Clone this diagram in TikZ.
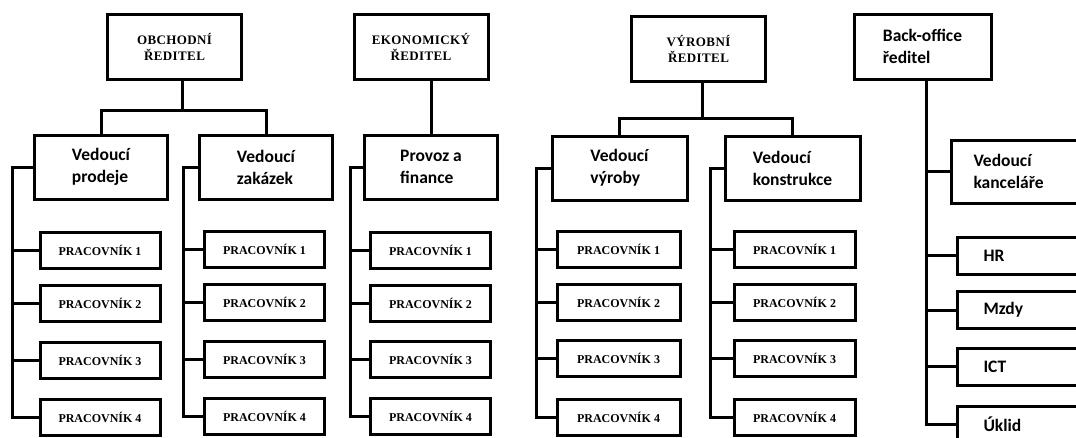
\documentclass[tikz,border=0pt]{standalone}
\usepackage{fontspec}
\usepackage{tikz}
\newfontfamily\calfont{Carlito}
\newfontfamily\serfont{Liberation Serif}
\newfontfamily\serwide[LetterSpace=3]{Liberation Serif}

\begin{document}
\begin{tikzpicture}[x = 1pt, y = -1pt, line width = 3pt,
    reditel/.style = {draw, minimum width = 134pt, minimum height = 65pt, align = center,
                      font = \serwide\bfseries\fontsize{13}{16}\selectfont},
    vedouci/.style = {draw, minimum width = 133pt, minimum height = 64pt, align = left,
                      font = \calfont\bfseries\fontsize{17.5}{22}\selectfont},
    pracovnik/.style = {draw, minimum width = 120pt, minimum height = 36pt,
                        font = \serfont\bfseries\fontsize{12}{14}\selectfont},
    usek/.style = {draw, anchor = west, minimum height = 37pt, text width = 100pt,
                   inner xsep = 26pt, align = left,
                   font = \calfont\bfseries\fontsize{17.5}{22}\selectfont}]
    \useasboundingbox (0, 0) rectangle (1076, 437);
    \clip (0, 0) rectangle (1076, 437);

    % reditele
    \node [reditel] (obch) at (174.5, 46.5) {OBCHODNÍ\\ŘEDITEL};
    \node [reditel] (ekon) at (421, 47) {EKONOMICKÝ\\ŘEDITEL};
    \node [reditel] (vyr) at (698.5, 48.5) {VÝROBNÍ\\ŘEDITEL};
    \node [vedouci, minimum width = 137pt, minimum height = 65pt] (back) at (922.5, 46.5) {Back-office\\ředitel};

    % vedouci
    \node [vedouci] (prod) at (101, 167) {Vedoucí\\prodeje};
    \node [vedouci] (zak) at (266, 167) {Vedoucí\\zakázek};
    \node [vedouci] (prov) at (431, 167) {Provoz a\\finance};
    \node [vedouci, minimum width = 135pt] (vyrb) at (619.5, 168) {Vedoucí\\výroby};
    \node [vedouci, minimum width = 135pt] (kons) at (792.5, 168) {Vedoucí\\konstrukce};
    \node [usek, minimum height = 63pt, inner xsep = 22pt, text width = 110pt] (kanc) at (950, 171.5) {Vedoucí\\kanceláře};

    % pracovnici
    \node [pracovnik] (p11) at (100, 250) {PRACOVNÍK 1};
    \node [pracovnik] (p12) at (100, 303) {PRACOVNÍK 2};
    \node [pracovnik] (p13) at (100, 360) {PRACOVNÍK 3};
    \node [pracovnik] (p14) at (100, 417) {PRACOVNÍK 4};
    \node [pracovnik] (p21) at (264.5, 249) {PRACOVNÍK 1};
    \node [pracovnik] (p22) at (264.5, 302) {PRACOVNÍK 2};
    \node [pracovnik] (p23) at (264.5, 359) {PRACOVNÍK 3};
    \node [pracovnik] (p24) at (264.5, 416) {PRACOVNÍK 4};
    \node [pracovnik] (p31) at (430.5, 250) {PRACOVNÍK 1};
    \node [pracovnik] (p32) at (430.5, 303) {PRACOVNÍK 2};
    \node [pracovnik] (p33) at (430.5, 359) {PRACOVNÍK 3};
    \node [pracovnik] (p34) at (430.5, 416) {PRACOVNÍK 4};
    \node [pracovnik, minimum width = 123pt] (p41) at (618.5, 249.5) {PRACOVNÍK 1};
    \node [pracovnik, minimum width = 123pt] (p42) at (618.5, 302) {PRACOVNÍK 2};
    \node [pracovnik, minimum width = 123pt] (p43) at (618.5, 358.5) {PRACOVNÍK 3};
    \node [pracovnik, minimum width = 123pt] (p44) at (618.5, 417) {PRACOVNÍK 4};
    \node [pracovnik, minimum width = 121pt] (p51) at (794.5, 249.5) {PRACOVNÍK 1};
    \node [pracovnik, minimum width = 121pt] (p52) at (794.5, 302) {PRACOVNÍK 2};
    \node [pracovnik, minimum width = 121pt] (p53) at (794.5, 358.5) {PRACOVNÍK 3};
    \node [pracovnik, minimum width = 121pt] (p54) at (794.5, 417) {PRACOVNÍK 4};

    % back-office useky
    \node [usek] (hr) at (956, 255.5) {HR};
    \node [usek] (mzdy) at (956, 310) {Mzdy};
    \node [usek] (ict) at (956, 366.5) {ICT};
    \node [usek] (ukl) at (956, 424.5) {Úklid};

    % spojnice shora
    \coordinate (obchj) at (182, 110);
    \coordinate (vyrj) at (702, 118);
    \draw (obch.south -| obchj) -- (obchj);
    \draw (prod.north) |- (obchj) -| (zak.north);
    \draw (ekon.south -| prov.north) -- (prov.north);
    \draw (vyr.south -| vyrj) -- (vyrj);
    \draw (vyrb.north) |- (vyrj) -| (kons.north);

    % kmeny
    \coordinate (k1) at (12, 0);
    \coordinate (k2) at (183, 0);
    \coordinate (k3) at (350, 0);
    \coordinate (k4) at (536, 0);
    \coordinate (k5) at (710, 0);
    \coordinate (k6) at (926, 0);
    \draw (prod.west) -| (k1 |- p14.west) -- (p14.west);
    \draw (k1 |- p11.west) -- (p11.west);
    \draw (k1 |- p12.west) -- (p12.west);
    \draw (k1 |- p13.west) -- (p13.west);
    \draw (zak.west) -| (k2 |- p24.west) -- (p24.west);
    \draw (k2 |- p21.west) -- (p21.west);
    \draw (k2 |- p22.west) -- (p22.west);
    \draw (k2 |- p23.west) -- (p23.west);
    \draw (prov.west) -| (k3 |- p34.west) -- (p34.west);
    \draw (k3 |- p31.west) -- (p31.west);
    \draw (k3 |- p32.west) -- (p32.west);
    \draw (k3 |- p33.west) -- (p33.west);
    \draw (vyrb.west) -| (k4 |- p44.west) -- (p44.west);
    \draw (k4 |- p41.west) -- (p41.west);
    \draw (k4 |- p42.west) -- (p42.west);
    \draw (k4 |- p43.west) -- (p43.west);
    \draw (kons.west) -| (k5 |- p54.west) -- (p54.west);
    \draw (k5 |- p51.west) -- (p51.west);
    \draw (k5 |- p52.west) -- (p52.west);
    \draw (k5 |- p53.west) -- (p53.west);
    \draw (back.south -| k6) -- (k6 |- ukl.west) -- (ukl.west);
    \draw (k6 |- kanc.west) -- (kanc.west);
    \draw (k6 |- hr.west) -- (hr.west);
    \draw (k6 |- mzdy.west) -- (mzdy.west);
    \draw (k6 |- ict.west) -- (ict.west);
\end{tikzpicture}
\end{document}
